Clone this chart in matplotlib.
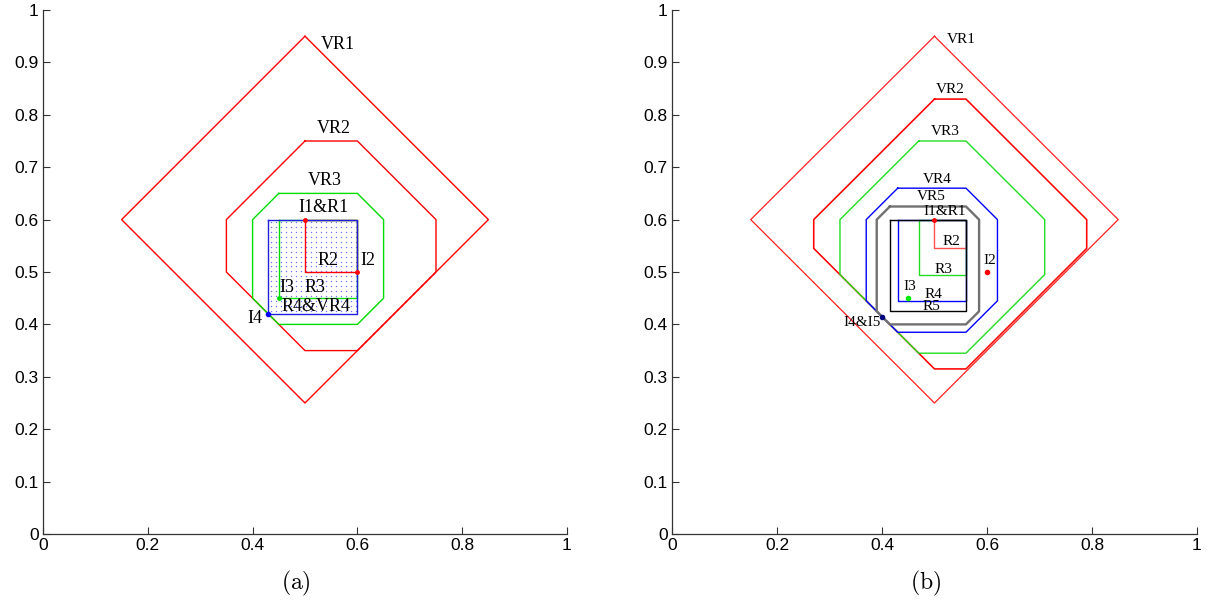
import matplotlib
matplotlib.use('Agg')
import matplotlib.pyplot as plt
import numpy as np

plt.rcParams['mathtext.fontset'] = 'cm'
plt.rcParams['font.family'] = ['Liberation Sans', 'DejaVu Sans']

# ---- data ----
# rectangles as (x0, x1, y0, y1), radii of the diamond grown around them
# panel (a)
a_I1 = (0.5, 0.6)
a_I2 = (0.6, 0.5)
a_I3 = (0.45, 0.45)
a_I4 = (0.43, 0.42)
a_R2 = (0.5, 0.6, 0.5, 0.6)
a_R3 = (0.45, 0.6, 0.45, 0.6)
a_R4 = (0.43, 0.6, 0.42, 0.6)
a_VR_rects = [(0.5, 0.5, 0.6, 0.6), a_R2, a_R3]
a_VR_radii = [0.35, 0.15, 0.05]
a_VR_colors = ['red', 'red', '#00dd00']

# panel (b)
b_I1 = (0.5, 0.6)
b_I2 = (0.6, 0.5)
b_I3 = (0.45, 0.45)
b_I4 = (0.40, 0.415)
b_R2 = (0.5, 0.56, 0.545, 0.6)
b_R3 = (0.47, 0.56, 0.495, 0.6)
b_R4 = (0.43, 0.56, 0.445, 0.6)
b_R5 = (0.415, 0.56, 0.425, 0.6)
b_VR_rects = [(0.5, 0.5, 0.6, 0.6), b_R2, b_R3, b_R4, b_R5]
b_VR_radii = [0.35, 0.23, 0.15, 0.06, 0.025]
b_VR_colors = ['#ff2020', 'red', '#22dd22', 'blue', '#707070']
b_VR_widths = [0.9, 1.15, 1.0, 1.0, 1.7]

x_ticks = [0, 0.2, 0.4, 0.6, 0.8, 1]
y_ticks = [0, 0.1, 0.2, 0.3, 0.4, 0.5, 0.6, 0.7, 0.8, 0.9, 1]
tick_labels_x = ['0', '0.2', '0.4', '0.6', '0.8', '1']
tick_labels_y = ['0', '0.1', '0.2', '0.3', '0.4', '0.5', '0.6', '0.7', '0.8', '0.9', '1']

a_labels = [('VR1', 0.53, 0.935), ('VR2', 0.523, 0.773), ('VR3', 0.506, 0.674),
            ('I1&R1', 0.487, 0.624), ('R2', 0.523, 0.521), ('I2', 0.605, 0.521),
            ('I3', 0.452, 0.47), ('R3', 0.50, 0.47), ('R4&VR4', 0.456, 0.435),
            ('I4', 0.391, 0.412)]
b_labels = [('VR1', 0.523, 0.943), ('VR2', 0.503, 0.849), ('VR3', 0.493, 0.768),
            ('VR4', 0.477, 0.677), ('VR5', 0.466, 0.644), ('I1&R1', 0.479, 0.615),
            ('R2', 0.516, 0.558), ('I2', 0.593, 0.522), ('R3', 0.501, 0.504),
            ('I3', 0.44, 0.473), ('R4', 0.482, 0.458), ('R5', 0.4775, 0.434),
            ('I4&I5', 0.326, 0.403)]


def octagon(rect, r):
    x0, x1, y0, y1 = rect
    xs = [x0, x1, x1 + r, x1 + r, x1, x0, x0 - r, x0 - r, x0]
    ys = [y1 + r, y1 + r, y1, y0, y0 - r, y0 - r, y0, y1, y1 + r]
    return xs, ys


def rect_xy(rect):
    x0, x1, y0, y1 = rect
    return [x0, x0, x1, x1, x0], [y1, y0, y0, y1, y1]


def setup(ax, caption):
    ax.set_xlim(0, 1)
    ax.set_ylim(0, 1)
    ax.spines['top'].set_visible(False)
    ax.spines['right'].set_visible(False)
    for s in ('left', 'bottom'):
        ax.spines[s].set_color('#333333')
        ax.spines[s].set_linewidth(0.9)
    ax.set_xticks(x_ticks)
    ax.set_xticklabels(tick_labels_x)
    ax.set_yticks(y_ticks)
    ax.set_yticklabels(tick_labels_y)
    ax.tick_params(direction='in', length=5, labelsize=12.5, pad=3, color='#333333')
    ax.text(0.483, -0.095, r'$\mathrm{%s}$' % caption, transform=ax.transAxes,
            ha='center', va='center', fontsize=17)


fig = plt.figure(figsize=(12.11, 6.07), dpi=100)
ax1 = fig.add_axes([0.0355, 0.1203, 0.4327, 0.8632])
ax2 = fig.add_axes([0.5549, 0.1203, 0.4335, 0.8632])

# ---- panel (a) ----
setup(ax1, '(a)')
gx, gy = np.meshgrid(np.arange(a_R4[0] + 0.005, a_R4[1], 0.0095),
                     np.arange(a_R4[2] + 0.005, a_R4[3], 0.0095))
ax1.scatter(gx.ravel(), gy.ravel(), s=1.0, color='#7070ff', linewidths=0, zorder=1)
for rect, r, c in zip(a_VR_rects, a_VR_radii, a_VR_colors):
    ax1.plot(*octagon(rect, r), color=c, lw=1.0, zorder=2)
ax1.plot(*rect_xy(a_R2), color='red', lw=1.0, zorder=3)
ax1.plot(*rect_xy(a_R3), color='#00dd00', lw=1.0, zorder=3)
ax1.plot(*rect_xy(a_R4), color='#2020dd', lw=1.0, zorder=4)
ax1.plot(*zip(a_I1, a_I2), ls='none', marker='o', ms=2.5, color='red', zorder=5)
ax1.plot(*a_I3, marker='o', ms=2.5, color='#00dd00', zorder=5)
ax1.plot(*a_I4, marker='o', ms=3, color='blue', zorder=5)
for t, x, y in a_labels:
    ax1.text(x, y, t, fontsize=13, family='Liberation Serif', va='center', ha='left')

# ---- panel (b) ----
setup(ax2, '(b)')
for rect, r, c, w in zip(b_VR_rects, b_VR_radii, b_VR_colors, b_VR_widths):
    ax2.plot(*octagon(rect, r), color=c, lw=w, zorder=2)
ax2.plot(*rect_xy(b_R2), color='#ff5050', lw=1.0, zorder=3)
ax2.plot(*rect_xy(b_R3), color='#22dd22', lw=1.0, zorder=3)
ax2.plot(*rect_xy(b_R4), color='blue', lw=1.0, zorder=3)
ax2.plot(*rect_xy(b_R5), color='black', lw=1.0, zorder=4)
ax2.plot(*b_I1, marker='o', ms=2.5, color='red', zorder=5)
ax2.plot(*b_I2, marker='o', ms=3, color='red', zorder=5)
ax2.plot(*b_I3, marker='o', ms=3, color='#00ee00', zorder=5)
ax2.plot(*b_I4, marker='o', ms=3, color='#000080', zorder=5)
for t, x, y in b_labels:
    ax2.text(x, y, t, fontsize=11, family='Liberation Serif', va='center', ha='left')

fig.savefig('out.png', dpi=100)
